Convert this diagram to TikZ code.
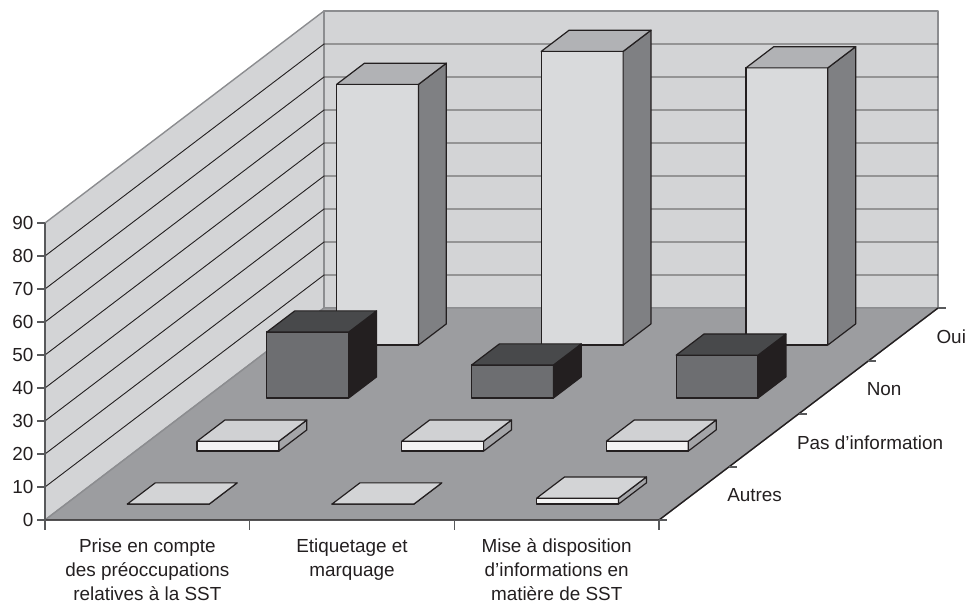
\documentclass[tikz,border=0pt]{standalone}
\usepackage{fontspec}
\setmainfont{Liberation Sans}

\definecolor{wallgray}{HTML}{D3D4D6}
\definecolor{floorgray}{HTML}{9C9DA0}
\definecolor{edgegray}{HTML}{8C8D90}
\definecolor{gridblack}{HTML}{231F20}
\definecolor{axisgray}{HTML}{58595B}
\definecolor{ouifront}{HTML}{D9DADC}
\definecolor{ouitop}{HTML}{B1B2B5}
\definecolor{ouiside}{HTML}{7F8083}
\definecolor{nonfront}{HTML}{6D6E71}
\definecolor{nontop}{HTML}{48494B}
\definecolor{nonside}{HTML}{231F20}
\definecolor{pasfront}{HTML}{F3F3F3}
\definecolor{pastop}{HTML}{D0D1D3}
\definecolor{passide}{HTML}{A4A5A8}
\definecolor{autfront}{HTML}{F3F3F3}
\definecolor{auttop}{HTML}{D3D4D6}
\definecolor{autside}{HTML}{A4A5A8}

% one box: category, row (1 = front), value, colour prefix
\newcommand{\chartbar}[4]{%
  \pgfmathsetmacro{\xa}{#1+0.3}
  \pgfmathsetmacro{\xb}{#1+0.7}
  \pgfmathsetmacro{\za}{(#2-0.5)/4-0.05}
  \pgfmathsetmacro{\zb}{(#2-0.5)/4+0.05}
  \draw[barline, fill=#4front] (\xa,0,\za) -- (\xb,0,\za) -- (\xb,#3,\za) -- (\xa,#3,\za) -- cycle;
  \draw[barline, fill=#4side] (\xb,0,\za) -- (\xb,0,\zb) -- (\xb,#3,\zb) -- (\xb,#3,\za) -- cycle;
  \draw[barline, fill=#4top] (\xa,#3,\za) -- (\xb,#3,\za) -- (\xb,#3,\zb) -- (\xa,#3,\zb) -- cycle;
}

\begin{document}
\begin{tikzpicture}[x={(102.333pt,0pt)}, y={(0pt,1.65pt)}, z={(139.5pt,106pt)},
    font=\fontsize{9.45}{12}\selectfont]
    \tikzstyle{wall}=[fill=wallgray, draw=edgegray, line width=0.7pt, line join=round];
    \tikzstyle{gridline}=[draw=gridblack, line width=0.45pt];
    \tikzstyle{barline}=[draw=gridblack, line width=0.6pt, line join=round];
    \tikzstyle{tick}=[draw=axisgray, line width=0.7pt];
    \tikzstyle{catlabel}=[anchor=north, align=center, inner sep=0pt, text=gridblack];
    \tikzstyle{serlabel}=[anchor=west, inner sep=0pt, text=gridblack];

    \useasboundingbox (-22.5pt,-41.5pt) rectangle (461.5pt,260pt);

    % walls, floor
    \draw[wall] (0,0,0) -- (0,90,0) -- (0,90,1) -- (0,0,1) -- cycle;
    \draw[wall] (0,0,1) -- (0,90,1) -- (3,90,1) -- (3,0,1) -- cycle;
    \foreach \v in {10,20,...,80}
        \draw[gridline] (0,\v,0) -- (0,\v,1) -- (3,\v,1);
    \draw[fill=floorgray, draw=edgegray, line width=0.7pt] (0,0,0) -- (0,0,1) -- (3,0,1) -- (3,0,0) -- cycle;
    \draw[gridblack, line width=0.7pt] (0,0,0) -- (3,0,0) -- (3,0,1);

    % value axis
    \draw[tick] (0,0,0) -- (0,90,0);
    \foreach \v in {0,10,...,90}
        \draw[tick] (0,\v,0) -- ++(-4pt,0) node[anchor=east, inner sep=0pt, xshift=-1.5pt, text=gridblack] (ylab\v) {\v};

    % category and row ticks
    \foreach \c in {0,1,2,3}
        \draw[tick] (\c,0,0) -- ++(0,-5pt);
    \foreach \s in {0,0.25,0.5,0.75,1}
        \draw[tick] (3,0,\s) -- ++(4pt,0);

    % boxes, back row first
    \chartbar{0}{4}{79}{oui}
    \chartbar{1}{4}{89}{oui}
    \chartbar{2}{4}{84}{oui}
    \chartbar{0}{3}{20}{non}
    \chartbar{1}{3}{10}{non}
    \chartbar{2}{3}{13}{non}
    \chartbar{0}{2}{3}{pas}
    \chartbar{1}{2}{3}{pas}
    \chartbar{2}{2}{3}{pas}
    \chartbar{0}{1}{0}{aut}
    \chartbar{1}{1}{0}{aut}
    \chartbar{2}{1}{1.8}{aut}

    % labels
    \node[catlabel, yshift=-9pt] (prise) at (0.5,0,0) {Prise en compte\\des préoccupations\\relatives à la SST};
    \node[catlabel, yshift=-9pt] (etiq) at (1.5,0,0) {Etiquetage et\\marquage};
    \node[catlabel, yshift=-9pt] (mise) at (2.5,0,0) {Mise à disposition\\d’informations en\\matière de SST};

    \node[serlabel, xshift=16.5pt, yshift=-1pt] (oui) at (3,0,0.875) {Oui};
    \node[serlabel, xshift=16.5pt, yshift=-1pt] (non) at (3,0,0.625) {Non};
    \node[serlabel, xshift=16.5pt, yshift=-1pt] (pasinfo) at (3,0,0.375) {Pas d’information};
    \node[serlabel, xshift=16.5pt, yshift=-1pt] (autres) at (3,0,0.125) {Autres};
\end{tikzpicture}
\end{document}
